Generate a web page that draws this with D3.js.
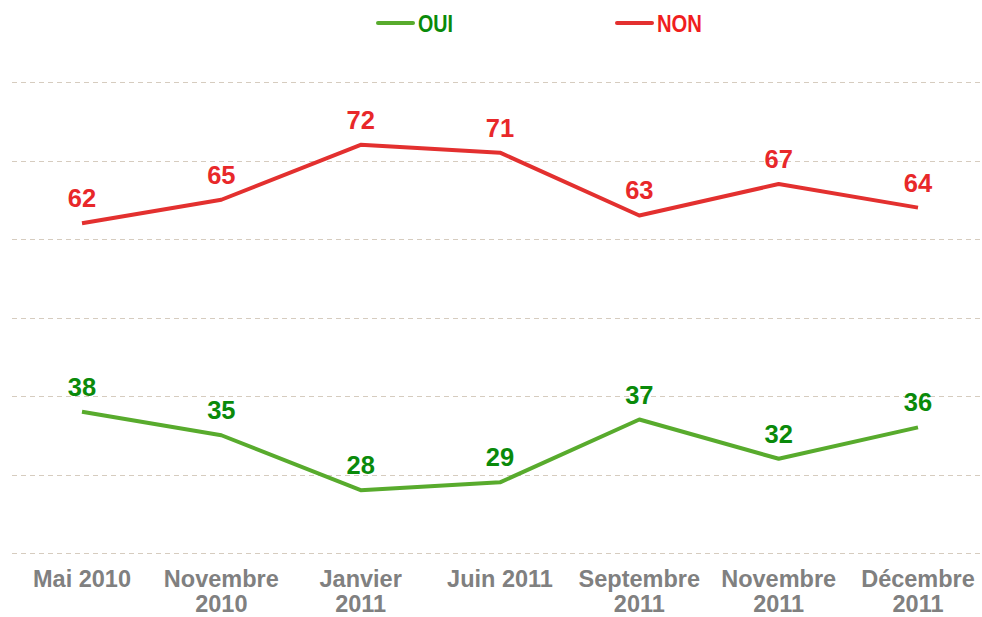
<!DOCTYPE html>
<html><head><meta charset="utf-8">
<script src="https://cdn.jsdelivr.net/npm/d3@7"></script>
<style>body{margin:0;background:#fff}svg{display:block}</style>
</head><body>
<svg id="c" width="982" height="617"></svg>
<script>
const categories = [["Mai 2010"],["Novembre","2010"],["Janvier","2011"],["Juin 2011"],["Septembre","2011"],["Novembre","2011"],["Décembre","2011"]];
const oui = [38,35,28,29,37,32,36];
const non = [62,65,72,71,63,67,64];
const gridTicks = [20,30,40,50,60,70,80];

const svg = d3.select("#c");
const x = d3.scalePoint().domain(d3.range(categories.length)).range([82,918]);
const y = d3.scaleLinear().domain([20,80]).range([553,82]);

svg.append("g").selectAll("line").data(gridTicks).join("line")
  .attr("x1",12).attr("x2",982)
  .attr("y1",d=>Math.round(y(d))+0.5).attr("y2",d=>Math.round(y(d))+0.5)
  .attr("stroke","#d6ccbf").attr("stroke-width",1).attr("stroke-dasharray","5,4");

const line = d3.line().x((d,i)=>x(i)).y(d=>y(d));
const series = [
  {name:"OUI", vals:oui, line:"#58ab2d", text:"#0a8a0a", legText:"#0a8a0a", lw:35},
  {name:"NON", vals:non, line:"#e3302f", text:"#e8282a", legText:"#f01e1e", lw:45}
];
series.forEach(s=>{
  svg.append("path").datum(s.vals).attr("d",line)
    .attr("fill","none").attr("stroke",s.line).attr("stroke-width",4).attr("stroke-linejoin","round");
  svg.append("g").selectAll("text").data(s.vals).join("text")
    .attr("x",(d,i)=>x(i)).attr("y",d=>y(d)-16)
    .attr("text-anchor","middle")
    .attr("font-family","Liberation Sans, Arial, sans-serif").attr("font-weight","bold")
    .attr("font-size",25.5).attr("fill",s.text).text(d=>d);
});

// x axis labels
const ax = svg.append("g");
categories.forEach((c,i)=>{
  const t = ax.append("text").attr("x",x(i)).attr("y",587).attr("text-anchor","middle")
    .attr("font-family","Liberation Sans, Arial, sans-serif").attr("font-weight","bold")
    .attr("font-size",23.5).attr("fill","#808080");
  c.forEach((ln,j)=>t.append("tspan").attr("x",x(i)).attr("dy",j===0?0:25).text(ln));
});

// legend
const leg = [{s:series[0],x:378},{s:series[1],x:617}];
leg.forEach(l=>{
  svg.append("line").attr("x1",l.x).attr("x2",l.x+35).attr("y1",23).attr("y2",23)
    .attr("stroke",l.s.line).attr("stroke-width",4).attr("stroke-linecap","round");
  svg.append("text").attr("x",l.x+40).attr("y",31.5)
    .attr("font-family","Liberation Sans, Arial, sans-serif").attr("font-weight","bold")
    .attr("font-size",24).attr("textLength",l.s.lw).attr("lengthAdjust","spacingAndGlyphs")
    .attr("fill",l.s.legText).text(l.s.name);
});
</script>
</body></html>
